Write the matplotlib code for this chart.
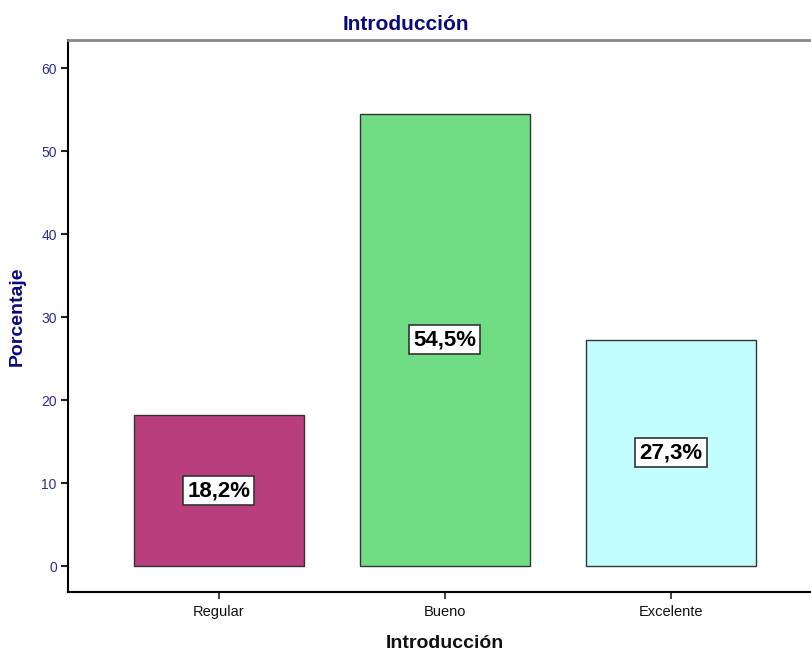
import matplotlib.pyplot as plt

# Datos
categorias = ['Regular', 'Bueno', 'Excelente']
porcentajes = [18.2, 54.5, 27.3]
colores = ['#B93E7C', '#70DC84', '#C2FEFE']
etiquetas = ['18,2%', '54,5%', '27,3%']

plt.rcParams['font.family'] = ['Liberation Sans', 'DejaVu Sans']

fig = plt.figure(figsize=(8.11, 6.52), dpi=100)
ax = fig.add_axes([0.0838, 0.092, 0.9297, 0.8466])

x = list(range(len(categorias)))
barras = ax.bar(x, porcentajes, width=0.75, color=colores, edgecolor='#333333', linewidth=1.0)

# Etiquetas en el centro de cada barra
for xi, val, txt in zip(x, porcentajes, etiquetas):
    ax.text(xi, val / 2, txt, ha='center', va='center', fontsize=16, fontweight='bold',
            bbox=dict(boxstyle='square,pad=0.18', facecolor='white', edgecolor='#333333', linewidth=1.2))

ax.set_xlim(-0.668, 2.668)
ax.set_ylim(-3.13, 63.4)
ax.set_yticks([0, 10, 20, 30, 40, 50, 60])
ax.set_xticks(x)
ax.set_xticklabels(categorias)

ax.tick_params(axis='y', colors='#222222', labelcolor='#2B2B9A', labelsize=10, length=5, width=1.5, pad=3)
ax.tick_params(axis='x', colors='#222222', labelcolor='#111111', labelsize=10.5, length=5, width=1.2, pad=4)

ax.spines['left'].set_linewidth(1.5)
ax.spines['bottom'].set_linewidth(1.5)
ax.spines['top'].set_color('#888888')
ax.spines['top'].set_linewidth(2)
ax.spines['right'].set_visible(False)

ax.set_ylabel('Porcentaje', fontsize=14, fontweight='bold', color='#0A0A80', labelpad=11)
ax.set_xlabel('Introducción', fontsize=14, fontweight='bold', color='#111111', labelpad=12)
fig.text(0.5, 0.963, 'Introducción', ha='center', va='center', fontsize=15, fontweight='bold', color='#0A0A80')

fig.savefig('out.png', dpi=100)
